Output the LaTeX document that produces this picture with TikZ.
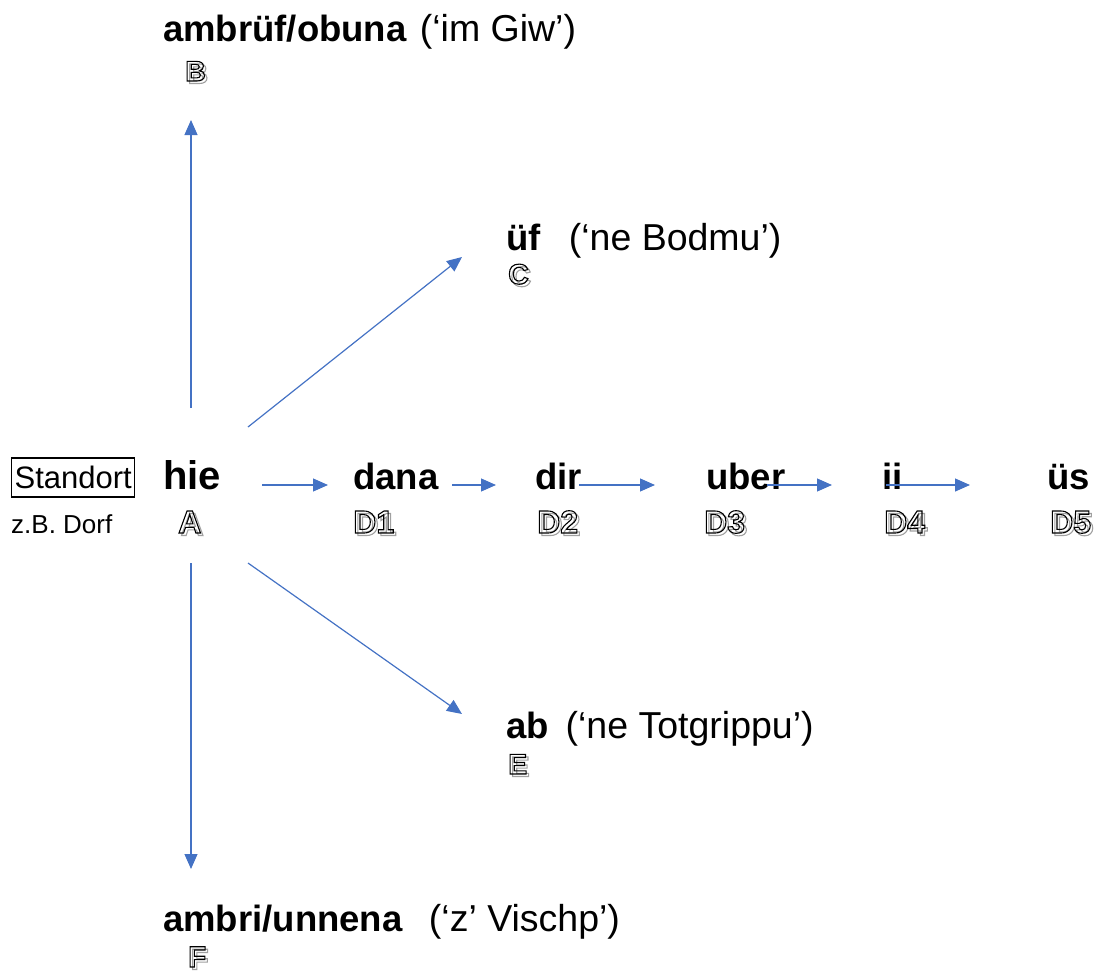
\documentclass[tikz,border=0pt]{standalone}
\usepackage{fontspec}
\setmainfont{Liberation Sans}
\usetikzlibrary{arrows.meta}
\definecolor{arrowblue}{HTML}{4472C4}
\definecolor{shadowgray}{HTML}{A0A0A0}
% hollow (stroked) letters with an offset grey stroked shadow
\newcommand{\strokedtext}[2]{{\color{#1}\special{pdf:literal direct 1 Tr 1.1 w}#2\special{pdf:literal direct 0 Tr}}}
\newcommand{\outlined}[1]{%
  \makebox[0pt][l]{\hspace{2.5pt}\raisebox{-2.5pt}{\strokedtext{shadowgray}{#1}}}%
  \strokedtext{black}{#1}}

\tikzset{
  txt/.style={anchor=base west, inner sep=0pt, font=\fontsize{37.5}{42}\selectfont},
  word/.style={txt, font=\fontsize{36.5}{42}\selectfont\bfseries},
  letr/.style={anchor=base west, inner sep=0pt, font=\fontsize{32}{34}\selectfont\bfseries},
  smallletr/.style={anchor=base west, inner sep=0pt, font=\fontsize{28.5}{30}\selectfont\bfseries},
  conn/.style={draw=arrowblue, line width=1.2pt, -{Triangle[length=15pt,width=13pt]}}
}

\begin{document}
\begin{tikzpicture}[x=1pt,y=-1pt]
\useasboundingbox (0,0) rectangle (1101,974);

% location marker on the left
\node[draw, line width=1.3pt, anchor=base west, inner xsep=3pt, inner ysep=0pt,
      text height=30pt, text depth=9pt, font=\fontsize{31}{34}\selectfont]
      (standort) at (11,488) {Standort};
\node[anchor=base west, inner sep=0pt, font=\fontsize{26}{30}\selectfont]
      (dorf) at (11,533) {z.B. Dorf};

% centre
\node[anchor=base west, inner sep=0pt, font=\fontsize{40}{44}\selectfont\bfseries]
      (hie) at (163,489) {hie};
\node[letr] (A) at (178,533) {\outlined{A}};

% upwards
\node[txt] (ambruef) at (163,42) {\textbf{\fontsize{36.5}{42}\selectfont ambrüf/obuna}\hspace{0.35em}(‘im Giw’)};
\node[smallletr] (B) at (185,81) {\outlined{B}};

% up and right
\node[txt] (uef) at (506,250) {\textbf{\fontsize{36.5}{42}\selectfont üf}\hspace{0.75em}(‘ne Bodmu’)};
\node[smallletr] (C) at (508,284) {\outlined{C}};

% down and right
\node[txt] (ab) at (506,738) {\textbf{\fontsize{36.5}{42}\selectfont ab}\hspace{0.45em}(‘ne Totgrippu’)};
\node[smallletr] (E) at (508,774) {\outlined{E}};

% downwards
\node[txt] (ambri) at (163,931) {\textbf{\fontsize{36.5}{42}\selectfont ambri/unnena}\hspace{0.7em}(‘z’ Vischp’)};
\node[letr, font=\fontsize{29.5}{32}\selectfont\bfseries] (F) at (188,967) {\outlined{F}};

% row of distances
\node[word] (dana) at (353,489) {dana};
\node[letr] (D1) at (353,533) {\outlined{D1}};
\node[word] (dir) at (535,489) {dir};
\node[letr] (D2) at (537,533) {\outlined{D2}};
\node[word] (uber) at (706,489) {uber};
\node[letr] (D3) at (704,533) {\outlined{D3}};
\node[word] (ii) at (882,489) {ii};
\node[letr] (D4) at (884,533) {\outlined{D4}};
\node[word] (ues) at (1047,489) {üs};
\node[letr] (D5) at (1050,533) {\outlined{D5}};

% arrow end points
\coordinate (upS) at (191,408);   \coordinate (upE) at (191,120);
\coordinate (ufS) at (248,427);   \coordinate (ufE) at (462,257);
\coordinate (abS) at (248,563);   \coordinate (abE) at (462,714);
\coordinate (dnS) at (191,563);   \coordinate (dnE) at (191,869);
\coordinate (r1S) at (262,485);   \coordinate (r1E) at (328,485);
\coordinate (r2S) at (452,485);   \coordinate (r2E) at (496,485);
\coordinate (r3S) at (579,485);   \coordinate (r3E) at (655,485);
\coordinate (r4S) at (767,485);   \coordinate (r4E) at (832,485);
\coordinate (r5S) at (886,485);   \coordinate (r5E) at (970,485);

\draw[conn] (upS) -- (upE);
\draw[conn] (ufS) -- (ufE);
\draw[conn] (abS) -- (abE);
\draw[conn] (dnS) -- (dnE);
\draw[conn] (r1S) -- (r1E);
\draw[conn] (r2S) -- (r2E);
\draw[conn] (r3S) -- (r3E);
\draw[conn] (r4S) -- (r4E);
\draw[conn] (r5S) -- (r5E);
\end{tikzpicture}
\end{document}
